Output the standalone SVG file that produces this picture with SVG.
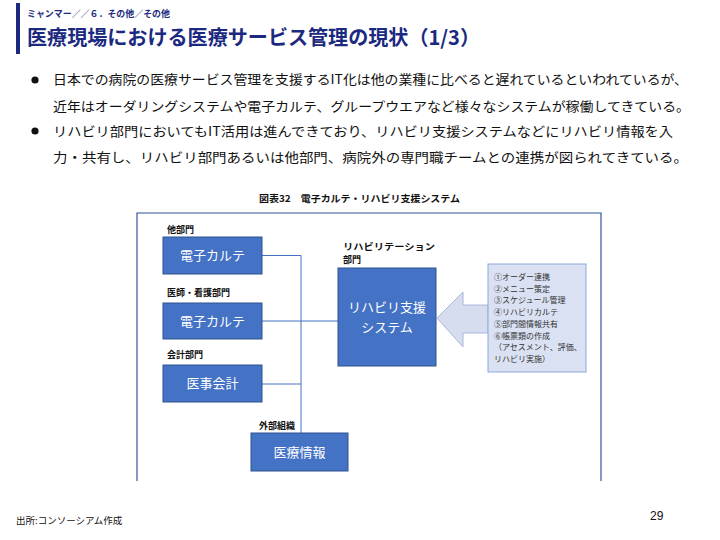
<svg xmlns="http://www.w3.org/2000/svg" width="720" height="540" viewBox="0 0 720 540">
<style>
.jp{font-family:"Noto Sans CJK JP","Liberation Sans",sans-serif}
.body{font-size:13px;fill:#111}
.lbl{font-size:9px;fill:#111;font-weight:bold}
.box{fill:#4472C4;stroke:#2F528F;stroke-width:1}
.bt{font-size:13px;fill:#fff;text-anchor:middle}
.con{fill:none;stroke:#4472C4;stroke-width:1}
.lst{font-size:8px;fill:#333}
</style>
<rect width="720" height="540" fill="#fff"/>
<g id="header">
<rect x="16" y="3" width="4" height="51" fill="#1B2A80"/>
<text class="jp" x="27" y="17" font-size="9" font-weight="bold" fill="#1B2A80" textLength="143" lengthAdjust="spacingAndGlyphs">ミャンマー／／６．その他／その他</text>
<text class="jp" x="27" y="45" font-size="20" font-weight="bold" fill="#1B2A80" textLength="453" lengthAdjust="spacingAndGlyphs">医療現場における医療サービス管理の現状（1/3）</text>
</g>
<g id="bullets">
<circle cx="35" cy="80" r="3.6" fill="#111"/>
<circle cx="35" cy="131" r="3.6" fill="#111"/>
<text class="jp body" x="53" y="84" textLength="635" lengthAdjust="spacingAndGlyphs">日本での病院の医療サービス管理を支援するIT化は他の業種に比べると遅れているといわれているが、</text>
<text class="jp body" x="53" y="111" textLength="637" lengthAdjust="spacingAndGlyphs">近年はオーダリングシステムや電子カルテ、グループウエアなど様々なシステムが稼働してきている。</text>
<text class="jp body" x="53" y="136" textLength="620" lengthAdjust="spacingAndGlyphs">リハビリ部門においてもIT活用は進んできており、リハビリ支援システムなどにリハビリ情報を入</text>
<text class="jp body" x="53" y="162" textLength="635" lengthAdjust="spacingAndGlyphs">力・共有し、リハビリ部門あるいは他部門、病院外の専門職チームとの連携が図られてきている。</text>
</g>
<text class="jp" x="259" y="202" font-size="9.5" font-weight="bold" fill="#111" textLength="201" lengthAdjust="spacingAndGlyphs">図表32　電子カルテ・リハビリ支援システム</text>
<path id="frame" d="M137,481 V213 H601 V481" fill="none" stroke="#2F5597" stroke-width="1.2"/>
<g id="connectors">
<path class="con" d="M262,255.5 H301 V433"/>
<path class="con" d="M262,321 H338"/>
<path class="con" d="M262,384 H301"/>
</g>
<g id="n-other">
<text class="jp lbl" x="167" y="233">他部門</text>
<rect class="box" x="163" y="237" width="99" height="37"/>
<text class="jp bt" x="212.5" y="260">電子カルテ</text>
</g>
<g id="n-nurse">
<text class="jp lbl" x="167" y="296">医師・看護部門</text>
<rect class="box" x="163" y="303" width="99" height="36"/>
<text class="jp bt" x="212.5" y="326">電子カルテ</text>
</g>
<g id="n-acct">
<text class="jp lbl" x="167" y="358">会計部門</text>
<rect class="box" x="163" y="365" width="99" height="37"/>
<text class="jp bt" x="212.5" y="388">医事会計</text>
</g>
<g id="n-ext">
<text class="jp lbl" x="259" y="429">外部組織</text>
<rect class="box" x="251" y="433" width="97" height="38"/>
<text class="jp bt" x="299.5" y="457">医療情報</text>
</g>
<g id="n-rehab">
<text class="jp lbl" x="343" y="250" textLength="92" lengthAdjust="spacingAndGlyphs">リハビリテーション</text>
<text class="jp lbl" x="343" y="263">部門</text>
<rect class="box" x="338" y="268" width="98" height="98"/>
<text class="jp bt" x="387" y="312" font-size="13.5">リハビリ支援</text>
<text class="jp bt" x="387" y="331.6" font-size="13.5">システム</text>
</g>
<g id="n-func">
<polygon points="437,318 463,292 463,305 488,305 488,333 463,333 463,347" fill="#D6DDEF" stroke="#A9B8DC" stroke-width="1"/>
<rect x="488" y="264" width="98" height="108" fill="#D9E1F2" stroke="#8EA9DB" stroke-width="1"/>
<text class="jp lst" x="494" y="280">①オーダー連携</text>
<text class="jp lst" x="494" y="291.7">②メニュー策定</text>
<text class="jp lst" x="494" y="303.4">③スケジュール管理</text>
<text class="jp lst" x="494" y="315.1">④リハビリカルテ</text>
<text class="jp lst" x="494" y="326.8">⑤部門間情報共有</text>
<text class="jp lst" x="494" y="338.5">⑥帳票類の作成</text>
<text class="jp lst" x="494" y="350.2">（アセスメント、評価、</text>
<text class="jp lst" x="494" y="361.9">リハビリ実施）</text>
</g>
<g id="footer">
<text class="jp" x="16" y="524" font-size="9.5" fill="#111">出所:コンソーシアム作成</text>
<text x="650" y="520" font-family="Liberation Sans,sans-serif" font-size="12" fill="#111">29</text>
</g>
</svg>
